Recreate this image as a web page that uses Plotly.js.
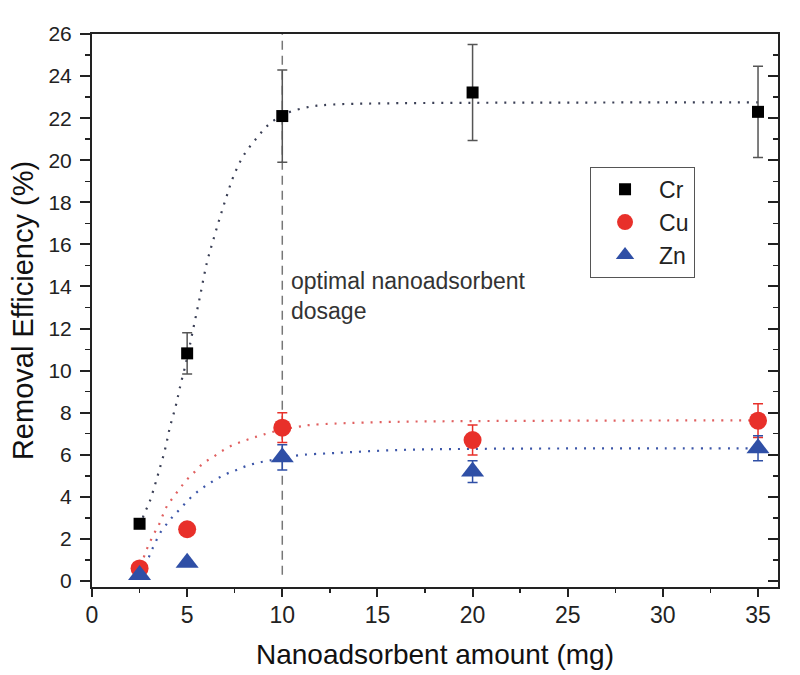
<!DOCTYPE html>
<html>
<head>
<meta charset="utf-8">
<script src="https://cdn.plot.ly/plotly-3.0.1.min.js"></script>
<style>
  html, body { margin: 0; padding: 0; background: #fff; }
  #chart { width: 800px; height: 675px; }
</style>
</head>
<body>
<div id="chart"></div>
<script>
// ---- data ----
const doses = [2.5, 5, 10, 20, 35];
const crValues = [2.72, 10.82, 22.1, 23.22, 22.3];
const crErrors = [0.2, 0.98, 2.19, 2.28, 2.17];
const cuValues = [0.6, 2.46, 7.29, 6.7, 7.62];
const cuErrors = [0.1, 0.15, 0.71, 0.71, 0.8];
const znValues = [0.28, 0.87, 5.88, 5.2, 6.31];
const znErrors = [0.1, 0.1, 0.6, 0.52, 0.6];

// fitted (dotted) curves
const crFitX = [2.5, 2.75, 3.0, 3.22, 3.48, 3.84, 4.1, 4.41, 4.62, 5.0, 5.3, 5.67, 6.03, 6.37, 6.73, 7.08, 7.42, 7.95, 8.65, 9.35, 10.05, 10.4, 11.5, 12.7, 15, 20, 25, 30, 35];
const crFitY = [2.6, 3.2, 3.7, 4.3, 5.1, 6.26, 7.33, 8.35, 9.2, 10.6, 11.9, 13.5, 15.1, 16.2, 17.3, 18.3, 19.2, 20.2, 21.05, 21.75, 22.15, 22.3, 22.55, 22.65, 22.7, 22.73, 22.74, 22.75, 22.75];
const cuFitX = [2.5, 2.7, 2.82, 3.0, 3.22, 3.48, 3.92, 4.27, 4.62, 4.97, 5.41, 5.85, 6.34, 6.87, 7.39, 7.92, 8.47, 9.04, 10, 10.84, 11.4, 12.7, 16.2, 20, 25, 30, 35];
const cuFitY = [0.75, 1.08, 1.39, 1.76, 2.19, 2.6, 3.53, 3.98, 4.4, 4.8, 5.2, 5.6, 5.88, 6.2, 6.46, 6.64, 6.81, 6.97, 7.2, 7.33, 7.41, 7.48, 7.57, 7.6, 7.62, 7.63, 7.63];
const znFitX = [2.5, 2.75, 2.96, 3.1, 3.31, 3.57, 3.96, 4.27, 4.66, 5.06, 5.53, 6.03, 6.52, 7.05, 7.6, 8.13, 8.71, 9.3, 10, 11.0, 12.7, 16.2, 20, 25, 30, 35];
const znFitY = [0.4, 0.8, 1.08, 1.39, 1.79, 2.27, 2.75, 3.09, 3.45, 3.85, 4.24, 4.56, 4.83, 5.09, 5.28, 5.47, 5.62, 5.72, 5.85, 5.99, 6.08, 6.23, 6.28, 6.3, 6.3, 6.3, 6.3];

const seriesNames = ['Cr', 'Cu', 'Zn'];
const optimalDose = [10];
const optimalLabel = 'optimal nanoadsorbent<br>dosage';
const xTitle = 'Nanoadsorbent amount (mg)';
const yTitle = 'Removal Efficiency (%)';

// ---- styles ----
const FONT = 'Liberation Sans, Arial, Helvetica, sans-serif';
const crColor = '#000000';
const cuColor = '#e8302a';
const znColor = '#2f4fa6';

function fitTrace(x, y, color) {
  return {
    x: x, y: y, type: 'scatter', mode: 'lines',
    line: { color: color, width: 2.2, dash: '2px,7px', shape: 'spline' },
    showlegend: false, hoverinfo: 'skip'
  };
}

const traces = [
  fitTrace(crFitX, crFitY, '#3a3f55'),
  fitTrace(cuFitX, cuFitY, '#e06060'),
  fitTrace(znFitX, znFitY, '#3b55a8'),
  {
    x: doses, y: crValues, name: seriesNames[0], type: 'scatter', mode: 'markers',
    marker: { symbol: 'square', size: 12, color: crColor },
    error_y: { type: 'data', array: crErrors, visible: true, color: '#555', thickness: 1.5, width: 5 }
  },
  {
    x: doses, y: cuValues, name: seriesNames[1], type: 'scatter', mode: 'markers',
    marker: { symbol: 'circle', size: 18, color: cuColor },
    error_y: { type: 'data', array: cuErrors, visible: true, color: cuColor, thickness: 1.5, width: 5 }
  },
  {
    x: doses, y: znValues, name: seriesNames[2], type: 'scatter', mode: 'markers',
    marker: { symbol: 'triangle-up', size: 20, color: znColor },
    error_y: { type: 'data', array: znErrors, visible: true, color: znColor, thickness: 1.5, width: 5 }
  },
  { x: [], y: [], yaxis: 'y2', showlegend: false, hoverinfo: 'skip', type: 'scatter', mode: 'markers' }
];

const yRange = [-0.285, 26];

const layout = {
  width: 800, height: 675,
  paper_bgcolor: '#fff', plot_bgcolor: '#fff',
  margin: { l: 92, r: 22, t: 34, b: 88 },
  font: { family: FONT, color: '#222' },
  showlegend: true,
  legend: {
    x: 0.726, y: 0.76, xanchor: 'left', yanchor: 'top',
    bgcolor: '#fff', bordercolor: '#555', borderwidth: 1,
    font: { size: 23, family: FONT, color: '#222' },
    itemwidth: 58, tracegroupgap: 0
  },
  xaxis: {
    range: [0, 36.05], tick0: 0, dtick: 5,
    showline: true, linecolor: '#222', linewidth: 2, mirror: true,
    ticks: 'outside', ticklen: 8, tickwidth: 2, tickcolor: '#222',
    minor: { dtick: 2.5, ticks: 'outside', ticklen: 4, tickwidth: 1.5, tickcolor: '#222', showgrid: false },
    showgrid: false, zeroline: false,
    tickfont: { size: 23, family: FONT, color: '#222' },
    ticklabelstandoff: -2,
    title: { text: xTitle, font: { size: 28, family: FONT, color: '#111' }, standoff: 18 }
  },
  yaxis: {
    range: yRange, tick0: 0, dtick: 2,
    showline: true, linecolor: '#222', linewidth: 2, mirror: true,
    ticks: 'outside', ticklen: 10, tickwidth: 2, tickcolor: '#222',
    minor: { dtick: 1, ticks: 'outside', ticklen: 5, tickwidth: 1.5, tickcolor: '#222', showgrid: false },
    showgrid: false, zeroline: false,
    tickfont: { size: 21, family: FONT, color: '#222' },
    ticklabelstandoff: 4,
    title: { text: yTitle, font: { size: 29, family: FONT, color: '#111' }, standoff: 6 }
  },
  yaxis2: {
    overlaying: 'y', side: 'right', range: yRange, tick0: 0, dtick: 2,
    showline: false, showgrid: false, zeroline: false, showticklabels: false,
    ticks: 'inside', ticklen: 10, tickwidth: 2, tickcolor: '#222',
    minor: { dtick: 1, ticks: 'inside', ticklen: 5, tickwidth: 1.5, tickcolor: '#222', showgrid: false }
  },
  shapes: optimalDose.map(d => ({
    type: 'line', xref: 'x', yref: 'y', x0: d, x1: d, y0: 0.3, y1: yRange[1],
    line: { color: '#777', width: 1.5, dash: '9px,6px' }, layer: 'below'
  })),
  annotations: optimalDose.map(d => ({
    x: d, y: 13.55, xref: 'x', yref: 'y', xshift: 7,
    xanchor: 'left', yanchor: 'middle', align: 'left', showarrow: false,
    text: optimalLabel, font: { size: 23, family: FONT, color: '#333' }
  }))
};

Plotly.newPlot('chart', traces, layout, { staticPlot: true, displayModeBar: false });
</script>
</body>
</html>
